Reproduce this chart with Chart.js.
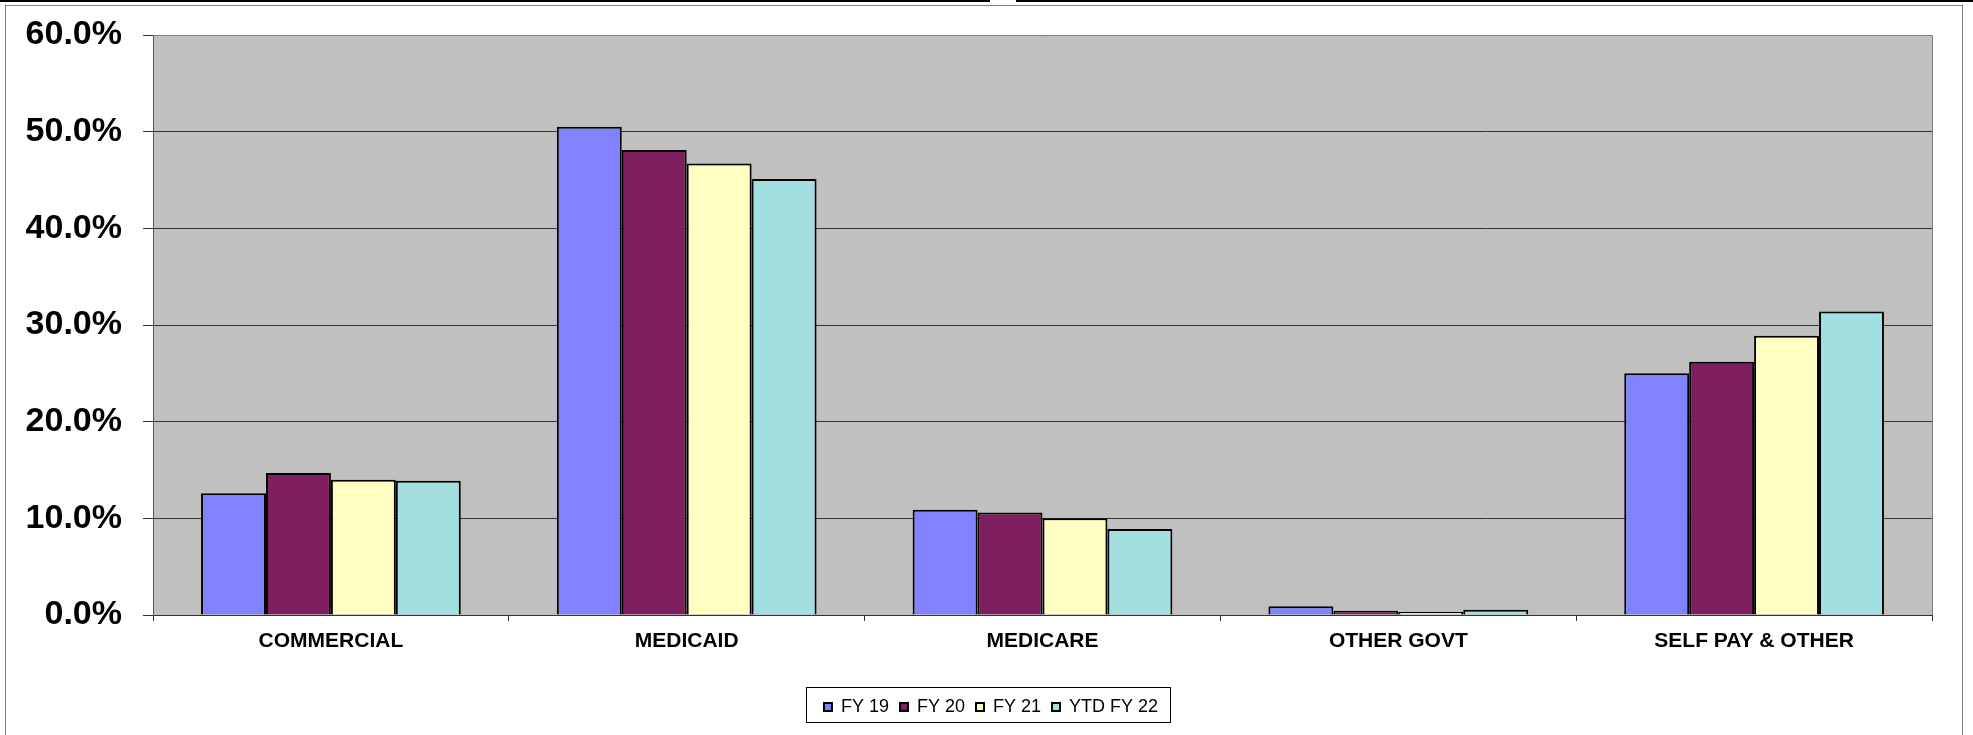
<!DOCTYPE html>
<html>
<head>
<meta charset="utf-8">
<script src="https://cdn.jsdelivr.net/npm/chart.js@4/dist/chart.umd.min.js"></script>
<style>
  body { margin: 0; background: #fff; }
  #wrap { width: 1973px; height: 735px; position: relative; }
</style>
</head>
<body>
<div id="wrap"><canvas id="canvas1"></canvas></div>
<script>
// data (percent)
const categories = ['COMMERCIAL', 'MEDICAID', 'MEDICARE', 'OTHER GOVT', 'SELF PAY & OTHER'];
const seriesNames = ['FY 19', 'FY 20', 'FY 21', 'YTD FY 22'];
const fy19 = [12.6, 50.5, 10.9, 0.9, 25.0];
const fy20 = [14.7, 48.1, 10.6, 0.45, 26.2];
const fy21 = [14.0, 46.7, 10.0, 0.3, 28.9];
const ytdFy22 = [13.9, 45.1, 8.9, 0.55, 31.4];
const yTicks = [0, 10, 20, 30, 40, 50, 60];

const colors = ['#8282FF', '#7F1F5F', '#FFFFC2', '#A3DFE0'];
const FONT = "'Liberation Sans', Arial, sans-serif";

// grey plot area + frames
const decor = {
    id: 'decor',
    afterLayout(chart) {
        // legend sits centred on the page, not on the plot
        const lg = chart.legend;
        lg.left += 25;
        lg.right += 25;
    },
    beforeDraw(chart) {
        const c = chart.ctx, a = chart.chartArea;
        c.save();
        c.fillStyle = '#fff';
        c.fillRect(0, 0, chart.width, chart.height);
        // outer frame
        c.strokeStyle = '#808080';
        c.lineWidth = 1;
        c.strokeRect(5.5, 5.5, 1957, 740);
        c.strokeStyle = '#000';
        c.lineWidth = 2;
        c.beginPath();
        c.moveTo(0, 1); c.lineTo(990, 1);
        c.moveTo(1016, 1); c.lineTo(chart.width, 1);
        c.stroke();
        c.fillStyle = '#C0C0C0';
        c.fillRect(a.left, a.top, a.right - a.left, a.bottom - a.top);
        c.restore();
    },
    afterDraw(chart) {
        const c = chart.ctx, a = chart.chartArea;
        c.save();
        c.strokeStyle = '#808080';
        c.lineWidth = 1;
        c.beginPath();
        c.moveTo(a.left, a.top + 0.5); c.lineTo(a.right + 0.5, a.top + 0.5); c.lineTo(a.right + 0.5, a.bottom);
        c.stroke();
        // legend border
        const hb = chart.legend.legendHitBoxes;
        if (hb && hb.length) {
            const l = hb[0].left - 18;
            const r = hb[hb.length - 1].left + hb[hb.length - 1].width + 12;
            const t = hb[0].top - 11;
            c.strokeStyle = '#000';
            c.strokeRect(Math.round(l) + 0.5, Math.round(t) + 0.5, Math.round(r - l), 35);
        }
        c.restore();
    }
};

const ctx1 = document.getElementById('canvas1');

new Chart(ctx1, {
    type: 'bar',
    data: {
        labels: categories,
        datasets: [fy19, fy20, fy21, ytdFy22].map((d, i) => ({
            label: seriesNames[i],
            data: d,
            backgroundColor: colors[i],
            borderColor: '#000',
            borderWidth: 2,
            categoryPercentage: 0.73,
            barPercentage: 1
        }))
    },
    options: {
        responsive: true,
        maintainAspectRatio: false,
        animation: false,
        layout: { padding: { left: 0, right: 41, top: 35, bottom: 9 } },
        plugins: {
            tooltip: { enabled: false },
            legend: {
                position: 'bottom',
                labels: {
                    boxWidth: 8,
                    boxHeight: 8,
                    padding: 11,
                    color: '#000',
                    font: { family: FONT, size: 18 }
                }
            }
        },
        scales: {
            x: {
                afterFit(s) { s.height = 72; },
                grid: { drawOnChartArea: false, tickLength: 6, color: '#333' },
                border: { color: '#333' },
                ticks: {
                    color: '#000',
                    padding: 8,
                    maxRotation: 0,
                    font: { family: FONT, size: 21, weight: 'bold' }
                }
            },
            y: {
                min: yTicks[0],
                max: yTicks[yTicks.length - 1],
                afterFit(s) {
                    s.width = 153;
                    s.paddingTop = 0;
                },
                afterBuildTicks(s) { s.ticks = yTicks.map(v => ({ value: v })); },
                grid: { color: '#333', tickLength: 10 },
                border: { color: '#555' },
                ticks: {
                    color: '#000',
                    padding: 21,
                    font: { family: FONT, size: 34, weight: 'bold', lineHeight: 1 },
                    callback: v => v.toFixed(1) + '%'
                }
            }
        }
    },
    plugins: [decor]
});
</script>
</body>
</html>
